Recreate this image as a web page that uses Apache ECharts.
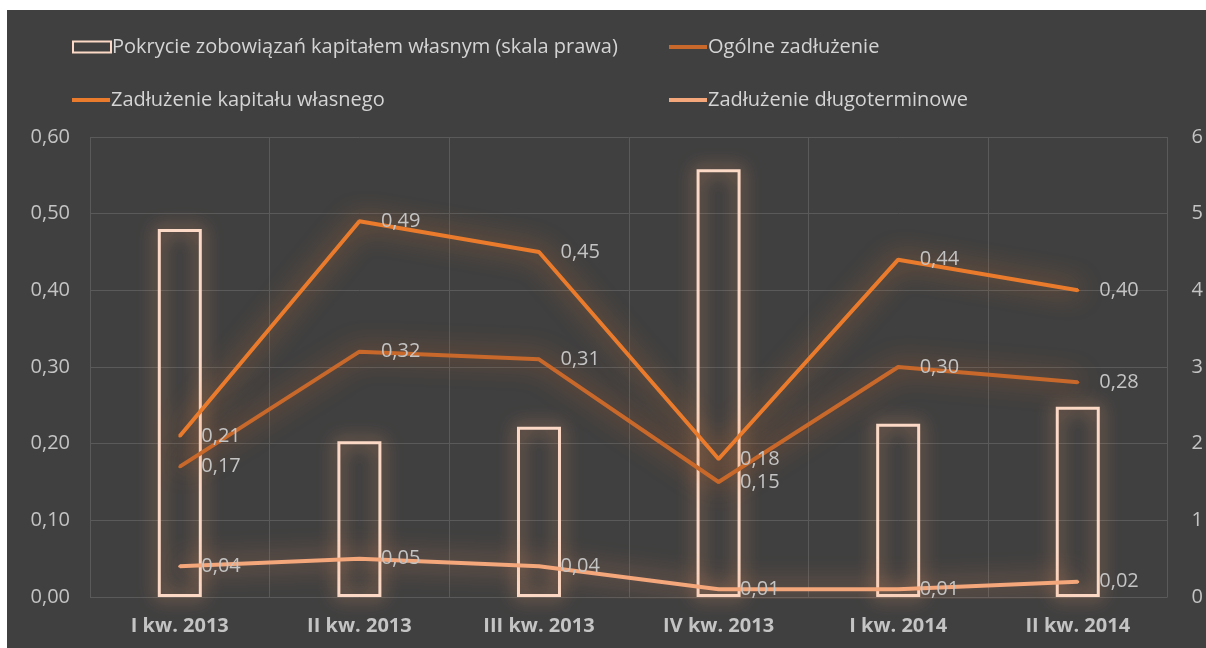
<!DOCTYPE html>
<html>
<head>
<meta charset="utf-8">
<script src="https://cdn.jsdelivr.net/npm/echarts@6/dist/echarts.min.js"></script>
<style>
  html, body { margin: 0; padding: 0; background: #ffffff; }
  #chart { position: absolute; left: 7px; top: 10px; width: 1199px; height: 638px; }
</style>
</head>
<body>
<div id="chart"></div>
<script>
const categories = ['I kw. 2013', 'II kw. 2013', 'III kw. 2013', 'IV kw. 2013', 'I kw. 2014', 'II kw. 2014']
const pokrycie = [4.80, 2.03, 2.22, 5.58, 2.26, 2.48]
const ogolne = [0.17, 0.32, 0.31, 0.15, 0.30, 0.28]
const kapitalWlasny = [0.21, 0.49, 0.45, 0.18, 0.44, 0.40]
const dlugoterminowe = [0.04, 0.05, 0.04, 0.01, 0.01, 0.02]

const NAMES = {
  bar: 'Pokrycie zobowiązań kapitałem własnym (skala prawa)',
  ogolne: 'Ogólne zadłużenie',
  kapital: 'Zadłużenie kapitału własnego',
  dlugo: 'Zadłużenie długoterminowe'
}

const FONT = '"Open Sans", "Noto Sans", sans-serif'
const TEXT = '#c4c4c4'

const chart = echarts.init(document.getElementById('chart'))

function comma(v, d) {
  return Number(v).toFixed(d).replace('.', ',')
}

function legendItem(name, left, top, h) {
  return {
    data: [name],
    left: left,
    top: top,
    itemWidth: 38,
    itemHeight: h,
    icon: 'rect',
    selectedMode: false,
    textStyle: { color: '#d4d4d4', fontSize: 20, fontFamily: FONT, padding: [0, 0, 0, -4] }
  }
}

function lineSeries(name, data, color, glow) {
  return {
    name: name,
    type: 'line',
    data: data,
    symbol: 'circle',
    symbolSize: 3,
    z: 3,
    lineStyle: { color: color, width: 4, shadowColor: glow, shadowBlur: 26 },
    itemStyle: { color: color },
    label: {
      show: true,
      position: 'right',
      distance: 20,
      color: TEXT,
      fontSize: 20,
      fontFamily: FONT,
      formatter: p => comma(p.value, 2)
    }
  }
}

const option = {
  backgroundColor: '#404040',
  animation: false,
  legend: [
    legendItem(NAMES.bar, 60, 22, 11),
    legendItem(NAMES.ogolne, 657, 22, 4),
    legendItem(NAMES.kapital, 60, 75, 4),
    legendItem(NAMES.dlugo, 657, 75, 4)
  ],
  grid: { left: 83, right: 38, top: 127, bottom: 51 },
  xAxis: {
    type: 'category',
    data: categories,
    axisLine: { show: false },
    axisTick: { show: false },
    splitLine: { show: true, lineStyle: { color: '#5a5a5a', width: 1 } },
    axisLabel: { color: TEXT, fontSize: 20, fontWeight: 'bold', fontFamily: FONT, margin: 19 }
  },
  yAxis: [
    {
      type: 'value',
      min: 0,
      max: 0.6,
      interval: 0.1,
      axisLine: { show: false },
      axisTick: { show: false },
      splitLine: { lineStyle: { color: '#5a5a5a', width: 1 } },
      axisLabel: { color: TEXT, fontSize: 20, fontFamily: FONT, margin: 20, formatter: v => comma(v, 2) }
    },
    {
      type: 'value',
      min: 0,
      max: 6,
      interval: 1,
      axisLine: { show: false },
      axisTick: { show: false },
      splitLine: { show: false },
      axisLabel: { color: TEXT, fontSize: 20, fontFamily: FONT, margin: 24 }
    }
  ],
  series: [
    {
      name: NAMES.bar,
      type: 'bar',
      yAxisIndex: 1,
      data: pokrycie,
      barWidth: 44,
      z: 2,
      itemStyle: {
        color: 'rgba(0,0,0,0)',
        borderColor: '#fbd9c6',
        borderWidth: 3,
        shadowColor: 'rgba(244,160,110,0.95)',
        shadowBlur: 18
      }
    },
    lineSeries(NAMES.ogolne, ogolne, '#c8682a', 'rgba(225,110,40,0.9)'),
    lineSeries(NAMES.kapital, kapitalWlasny, '#ea7b2c', 'rgba(240,125,45,0.9)'),
    lineSeries(NAMES.dlugo, dlugoterminowe, '#f4a77a', 'rgba(244,150,100,0.9)')
  ]
}

chart.setOption(option)
</script>
</body>
</html>
